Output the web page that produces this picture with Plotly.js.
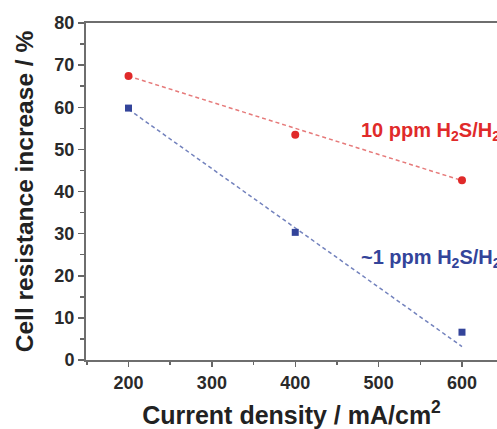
<!DOCTYPE html>
<html><head><meta charset="utf-8">
<script src="https://cdn.plot.ly/plotly-3.0.1.min.js"></script>
<style>html,body{margin:0;padding:0;overflow:hidden;background:#fff}</style>
</head><body>
<div id="chart" style="width:497px;height:429px"></div>
<script>
const currentDensity = [200, 400, 600];
const h2s10ppm = [67.4, 53.5, 42.7];
const h2s1ppm = [59.8, 30.3, 6.6];
const fitX = [200, 600];
const fit10ppm = [67.4, 42.6];
const fit1ppm = [59.5, 3.2];
const xTicks = [200, 300, 400, 500, 600];
const yTicks = [0, 10, 20, 30, 40, 50, 60, 70, 80];

const red = '#e02a2a', blue = '#33449a';
const FONT = 'Liberation Sans, Arial, sans-serif';

const traces = [
  {x: fitX, y: fit10ppm, mode: 'lines', line: {color: '#e67a7a', width: 1.5, dash: '4px,3px'}, hoverinfo: 'skip'},
  {x: fitX, y: fit1ppm, mode: 'lines', line: {color: '#7382bd', width: 1.5, dash: '4px,3px'}, hoverinfo: 'skip'},
  {x: currentDensity, y: h2s10ppm, mode: 'markers', marker: {symbol: 'circle', size: 8, color: red}},
  {x: currentDensity, y: h2s1ppm, mode: 'markers', marker: {symbol: 'square', size: 7, color: blue}}
];

const layout = {
  width: 497, height: 429,
  margin: {l: 86, r: 0, t: 23, b: 69},
  showlegend: false,
  paper_bgcolor: '#fff', plot_bgcolor: '#fff',
  font: {family: FONT, color: '#333'},
  xaxis: {
    range: [149, 642], tickvals: xTicks, ticks: 'outside', ticklen: 5, tickwidth: 1.5, tickcolor: '#666',
    minor: {dtick: 50, ticks: 'outside', ticklen: 3, tickwidth: 1.5, tickcolor: '#666'},
    showline: true, linecolor: '#6e6e6e', linewidth: 2, mirror: true,
    showgrid: false, zeroline: false,
    tickfont: {family: FONT, size: 18, color: '#2a2a2a', weight: 'bold'},
    title: {text: '<b>Current density / mA/cm<sup>2</sup></b>', font: {family: FONT, size: 25, color: '#222'}, standoff: 18}
  },
  yaxis: {
    range: [0, 80], tickvals: yTicks, ticks: 'outside', ticklen: 6, tickwidth: 1.5, tickcolor: '#666',
    minor: {dtick: 5, ticks: 'outside', ticklen: 4, tickwidth: 1.5, tickcolor: '#666'},
    showline: true, linecolor: '#6e6e6e', linewidth: 2,
    showgrid: false, zeroline: false,
    tickfont: {family: FONT, size: 18, color: '#2a2a2a', weight: 'bold'},
    title: {text: '<b>Cell resistance increase / %</b>', font: {family: FONT, size: 24.5, color: '#222'}, standoff: 14}
  },
  annotations: [
    {x: 477, y: 54.3, xref: 'x', yref: 'y', xanchor: 'left', yanchor: 'middle', showarrow: false,
     text: '<b>10 ppm H<sub>2</sub>S/H<sub>2</sub></b>', font: {family: FONT, size: 20, color: red}},
    {x: 477, y: 24.0, xref: 'x', yref: 'y', xanchor: 'left', yanchor: 'middle', showarrow: false,
     text: '<b>~1 ppm H<sub>2</sub>S/H<sub>2</sub></b>', font: {family: FONT, size: 20, color: blue}}
  ]
};

Plotly.newPlot('chart', traces, layout, {staticPlot: true, displayModeBar: false});
</script>
</body></html>
